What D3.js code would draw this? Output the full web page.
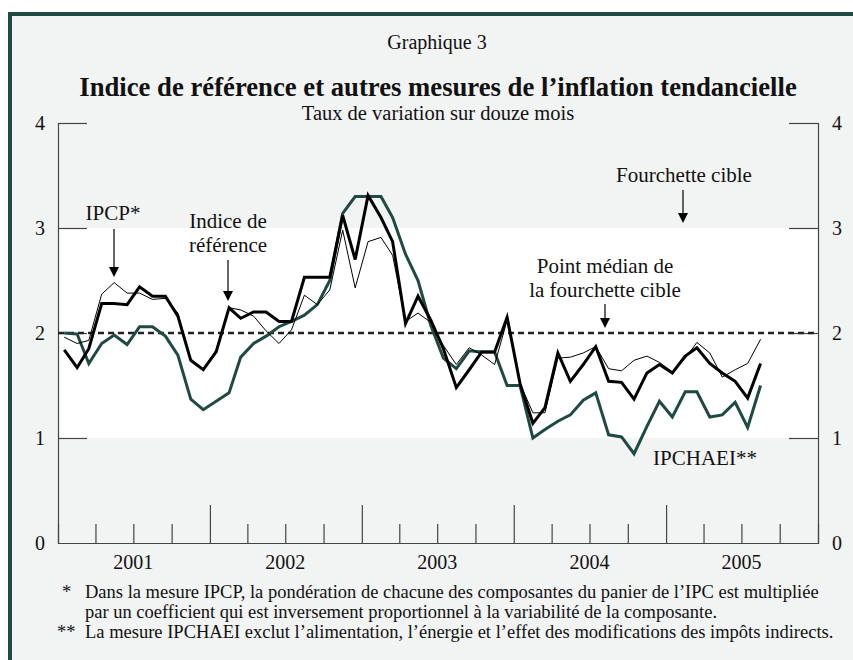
<!DOCTYPE html>
<html>
<head>
<meta charset="utf-8">
<script src="https://cdn.jsdelivr.net/npm/d3@7"></script>
<style>
  body { margin: 0; background: #fff; }
  svg text { font-family: "Liberation Serif", "Times New Roman", serif; fill: #111; }
</style>
</head>
<body>
<div id="chart"></div>
<script>
// 12-month rates, Jan 2001 - Aug 2005
const coreIndex = [1.84, 1.67, 1.85, 2.28, 2.28, 2.27, 2.44, 2.35, 2.35, 2.16, 1.74, 1.65,
  1.82, 2.24, 2.14, 2.20, 2.20, 2.11, 2.11, 2.53, 2.53, 2.53, 3.12, 2.70,
  3.31, 3.10, 2.87, 2.09, 2.35, 2.12, 1.85, 1.48, 1.65, 1.82, 1.82, 2.15,
  1.52, 1.14, 1.29, 1.81, 1.54, 1.70, 1.87, 1.54, 1.53, 1.37, 1.62, 1.70,
  1.62, 1.78, 1.86, 1.71, 1.62, 1.54, 1.38, 1.71];
const ipcp = [1.96, 1.90, 1.93, 2.37, 2.48, 2.38, 2.38, 2.32, 2.33, 2.19, 1.74, 1.65,
  1.84, 2.24, 2.22, 2.16, 2.02, 1.90, 2.03, 2.36, 2.27, 2.41, 2.98, 2.43,
  2.87, 2.91, 2.74, 2.11, 2.19, 2.10, 1.88, 1.70, 1.86, 1.79, 1.70, 2.12,
  1.52, 1.24, 1.24, 1.76, 1.77, 1.81, 1.87, 1.66, 1.64, 1.74, 1.78, 1.72,
  1.63, 1.76, 1.91, 1.81, 1.58, 1.65, 1.71, 1.94];
const ipchaei = [2.00, 1.99, 1.71, 1.90, 1.98, 1.89, 2.06, 2.06, 1.97, 1.79, 1.37, 1.27,
  1.35, 1.43, 1.77, 1.90, 1.97, 2.06, 2.11, 2.17, 2.27, 2.50, 3.14, 3.30,
  3.30, 3.30, 3.10, 2.75, 2.50, 2.07, 1.76, 1.66, 1.83, 1.82, 1.82, 1.50,
  1.50, 1.00, 1.08, 1.16, 1.22, 1.36, 1.43, 1.03, 1.01, 0.85, 1.11, 1.35,
  1.20, 1.44, 1.44, 1.20, 1.22, 1.34, 1.10, 1.50];
const months = d3.timeMonth.range(new Date(2001, 0, 1), new Date(2005, 8, 1));
const years = [2001, 2002, 2003, 2004, 2005];
const yTicks = [0, 1, 2, 3, 4];
const targetBand = [1, 3];
const midpoint = 2;

const width = 853, height = 660;
const green = '#1e4a42';

const svg = d3.select('#chart').append('svg')
  .attr('width', width).attr('height', height);

// frame
svg.append('rect')
  .attr('x', 10).attr('y', 14).attr('width', width).attr('height', height)
  .attr('fill', '#f2f3f3').attr('stroke', green).attr('stroke-width', 4);

const x = d3.scaleTime()
  .domain([new Date(2001, 0, 1), new Date(2006, 0, 1)])
  .range([58, 818]);
const y = d3.scaleLinear().domain([0, 4]).range([543, 123]);

// target range band
svg.append('rect')
  .attr('x', x.range()[0]).attr('width', x.range()[1] - x.range()[0])
  .attr('y', y(targetBand[1])).attr('height', y(targetBand[0]) - y(targetBand[1]))
  .attr('fill', '#fff');

// titles
svg.append('text').attr('x', 437).attr('y', 49).attr('text-anchor', 'middle')
  .attr('font-size', 20).text('Graphique 3');
svg.append('text').attr('x', 438).attr('y', 96).attr('text-anchor', 'middle')
  .attr('font-size', 26.7).attr('font-weight', 'bold')
  .text('Indice de référence et autres mesures de l’inflation tendancielle');
svg.append('text').attr('x', 438).attr('y', 120).attr('text-anchor', 'middle')
  .attr('font-size', 20.5).text('Taux de variation sur douze mois');

// axes
const axisColor = '#444';
const leftAxis = d3.axisRight(y).tickValues(yTicks.slice(1)).tickSize(29).tickFormat('');
const rightAxis = d3.axisLeft(y).tickValues(yTicks.slice(1)).tickSize(29).tickFormat('');
svg.append('g').attr('transform', `translate(${x.range()[0]},0)`).call(leftAxis);
svg.append('g').attr('transform', `translate(${x.range()[1]},0)`).call(rightAxis);
svg.selectAll('.domain, .tick line').attr('stroke', axisColor).attr('stroke-width', 1.2);

yTicks.forEach(v => {
  svg.append('text').attr('x', 40).attr('y', y(v) + 7).attr('text-anchor', 'middle')
    .attr('font-size', 20).text(v);
  svg.append('text').attr('x', 837).attr('y', y(v) + 7).attr('text-anchor', 'middle')
    .attr('font-size', 20).text(v);
});

// x axis with quarter ticks
const quarters = d3.timeMonth.every(3).range(new Date(2001, 3, 1), new Date(2006, 0, 1));
const xAxis = d3.axisTop(x).tickValues(quarters).tickSizeOuter(0)
  .tickSize(19).tickFormat('');
const gx = svg.append('g').attr('transform', `translate(0,${y(0)})`).call(xAxis);
gx.selectAll('.tick line')
  .attr('y2', d => d.getMonth() === 0 ? -38 : -19);
gx.selectAll('.domain, .tick line').attr('stroke', axisColor).attr('stroke-width', 1.2);

years.forEach(yr => {
  const mid = new Date(yr, 6, 1);
  svg.append('text').attr('x', x(mid)).attr('y', 569).attr('text-anchor', 'middle')
    .attr('font-size', 20).text(yr);
});

// midpoint dashed line
svg.append('line')
  .attr('x1', x.range()[0]).attr('x2', x.range()[1])
  .attr('y1', y(midpoint)).attr('y2', y(midpoint))
  .attr('stroke', '#222').attr('stroke-width', 2.5).attr('stroke-dasharray', '6,4');

// series
const pos = d => d3.timeDay.offset(d, 15);
const line = d3.line().x((d, i) => x(pos(months[i]))).y(d => y(d));

svg.append('path').datum(ipchaei).attr('d', line)
  .attr('fill', 'none').attr('stroke', green).attr('stroke-width', 3);
svg.append('path').datum(ipcp).attr('d', line)
  .attr('fill', 'none').attr('stroke', '#000').attr('stroke-width', 1);
svg.append('path').datum(coreIndex).attr('d', line)
  .attr('fill', 'none').attr('stroke', '#000').attr('stroke-width', 3);

// annotations
function arrow(xp, y1, y2) {
  svg.append('line').attr('x1', xp).attr('x2', xp).attr('y1', y1).attr('y2', y2 - 9)
    .attr('stroke', '#000').attr('stroke-width', 1.2);
  svg.append('path')
    .attr('d', `M${xp - 5},${y2 - 10}L${xp + 5},${y2 - 10}L${xp},${y2}Z`)
    .attr('fill', '#000');
}
function label(lines, cx, baseline) {
  lines.forEach((t, i) => {
    svg.append('text').attr('x', cx).attr('y', baseline + i * 24)
      .attr('text-anchor', 'middle').attr('font-size', 21).text(t);
  });
}
label(['IPCP*'], 113, 220);
arrow(114, 229, 277);
label(['Indice de', 'référence'], 228, 228);
arrow(228, 260, 301);
label(['Fourchette cible'], 684, 182);
arrow(683, 190, 223);
label(['Point médian de', 'la fourchette cible'], 605, 273);
arrow(605, 304, 328);
label(['IPCHAEI**'], 705, 465);

// footnotes
const notes = [
  ['*', 'Dans la mesure IPCP, la pondération de chacune des composantes du panier de l’IPC est multipliée'],
  ['', 'par un coefficient qui est inversement proportionnel à la variabilité de la composante.'],
  ['**', 'La mesure IPCHAEI exclut l’alimentation, l’énergie et l’effet des modifications des impôts indirects.']
];
notes.forEach((n, i) => {
  const yy = 598 + i * 20;
  svg.append('text').attr('x', n[0] === '*' ? 62 : 57).attr('y', yy).attr('font-size', 18.5).text(n[0]);
  svg.append('text').attr('x', 85).attr('y', yy).attr('font-size', 18.5).text(n[1]);
});
</script>
</body>
</html>
